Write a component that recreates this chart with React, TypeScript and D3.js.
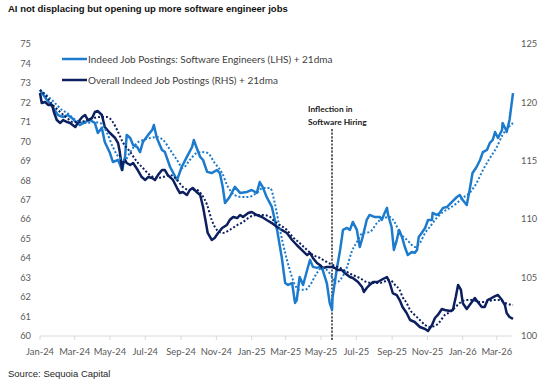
import React from "react";
import * as d3 from "d3";

// Indeed job postings, software engineers (left axis)
const softwarePostings: [string, number][] = [
  ["2024-01-01", 72.64], ["2024-01-13", 72.12], ["2024-01-23", 71.76], ["2024-02-01", 71.35],
  ["2024-02-10", 71.25], ["2024-02-18", 71.35], ["2024-02-25", 71.2], ["2024-03-05", 70.94],
  ["2024-03-10", 70.84], ["2024-03-19", 70.99], ["2024-03-27", 71.1], ["2024-04-05", 70.94],
  ["2024-04-10", 70.43], ["2024-04-17", 70.69], ["2024-04-22", 69.97], ["2024-05-01", 69.4],
  ["2024-05-06", 68.94], ["2024-05-15", 69.04], ["2024-05-22", 68.53], ["2024-05-27", 69.2],
  ["2024-05-30", 70.33], ["2024-06-05", 70.17], ["2024-06-10", 69.81], ["2024-06-17", 69.71],
  ["2024-06-22", 69.45], ["2024-06-27", 69.97], ["2024-07-06", 70.33], ["2024-07-13", 70.58],
  ["2024-07-16", 70.84], ["2024-07-21", 70.17], ["2024-07-30", 69.56], ["2024-08-04", 69.45],
  ["2024-08-13", 68.68], ["2024-08-25", 68.01], ["2024-09-02", 68.68], ["2024-09-11", 69.2],
  ["2024-09-20", 69.71], ["2024-09-23", 70.07], ["2024-09-28", 69.66], ["2024-10-04", 69.2],
  ["2024-10-09", 69.04], ["2024-10-16", 68.43], ["2024-10-24", 68.37], ["2024-11-02", 68.53],
  ["2024-11-07", 68.37], ["2024-11-12", 67.66], ["2024-11-16", 66.83], ["2024-11-24", 67.14],
  ["2024-12-03", 67.66], ["2024-12-12", 67.35], ["2024-12-24", 67.4], ["2025-01-01", 67.5],
  ["2025-01-10", 67.35], ["2025-01-15", 67.91], ["2025-01-20", 67.66], ["2025-01-27", 67.14],
  ["2025-02-05", 66.63], ["2025-02-14", 65.45], ["2025-02-22", 64.06], ["2025-02-28", 62.72],
  ["2025-03-05", 62.62], ["2025-03-12", 62.72], ["2025-03-17", 61.7], ["2025-03-20", 61.85],
  ["2025-03-25", 63.03], ["2025-03-31", 62.62], ["2025-04-07", 63.39], ["2025-04-12", 63.91],
  ["2025-04-17", 63.55], ["2025-04-24", 63.5], ["2025-04-29", 63.55], ["2025-05-04", 63.39],
  ["2025-05-11", 62.72], ["2025-05-16", 61.7], ["2025-05-20", 61.34], ["2025-05-21", 62.0],
  ["2025-05-28", 63.39], ["2025-06-03", 64.42], ["2025-06-08", 65.45], ["2025-06-15", 65.55],
  ["2025-06-20", 65.45], ["2025-06-25", 65.86], ["2025-07-02", 65.45], ["2025-07-07", 64.57],
  ["2025-07-12", 65.09], ["2025-07-19", 65.96], ["2025-07-24", 66.22], ["2025-08-02", 66.11],
  ["2025-08-11", 66.11], ["2025-08-14", 65.96], ["2025-08-19", 66.32], ["2025-08-23", 66.58],
  ["2025-08-25", 66.22], ["2025-08-31", 65.6], ["2025-09-04", 64.42], ["2025-09-09", 64.93],
  ["2025-09-13", 65.45], ["2025-09-18", 65.09], ["2025-09-23", 64.57], ["2025-09-28", 64.16],
  ["2025-10-05", 64.32], ["2025-10-10", 64.27], ["2025-10-14", 64.42], ["2025-10-17", 65.09],
  ["2025-10-22", 65.29], ["2025-10-28", 65.55], ["2025-11-02", 65.96], ["2025-11-09", 65.96],
  ["2025-11-10", 66.32], ["2025-11-17", 66.22], ["2025-11-22", 66.32], ["2025-11-28", 66.58],
  ["2025-12-05", 66.63], ["2025-12-13", 66.88], ["2025-12-22", 67.14], ["2025-12-27", 67.24],
  ["2026-01-01", 66.99], ["2026-01-08", 66.73], ["2026-01-13", 67.5], ["2026-01-18", 68.37],
  ["2026-01-25", 68.68], ["2026-01-31", 69.04], ["2026-02-05", 69.45], ["2026-02-12", 69.56],
  ["2026-02-17", 69.92], ["2026-02-22", 70.07], ["2026-02-26", 70.48], ["2026-03-03", 70.17],
  ["2026-03-10", 70.58], ["2026-03-11", 70.94], ["2026-03-17", 70.58], ["2026-03-18", 70.48],
  ["2026-03-23", 71.1], ["2026-03-29", 72.48],
];

// 21-day moving average of software engineer postings (left axis)
const softwareAvg21: [string, number][] = [
  ["2024-01-01", 72.64], ["2024-01-18", 72.23], ["2024-01-30", 71.87], ["2024-02-08", 71.61],
  ["2024-02-17", 71.46], ["2024-02-27", 71.2], ["2024-03-10", 70.99], ["2024-03-22", 70.94],
  ["2024-04-02", 70.99], ["2024-04-14", 70.94], ["2024-04-26", 70.43], ["2024-05-06", 69.71],
  ["2024-05-18", 69.14], ["2024-05-27", 69.04], ["2024-06-05", 69.45], ["2024-06-17", 69.92],
  ["2024-06-27", 70.07], ["2024-07-09", 70.17], ["2024-07-21", 70.22], ["2024-08-01", 70.07],
  ["2024-08-13", 69.56], ["2024-08-25", 69.04], ["2024-09-04", 68.63], ["2024-09-16", 69.04],
  ["2024-09-28", 69.4], ["2024-10-07", 69.45], ["2024-10-17", 69.4], ["2024-10-29", 68.89],
  ["2024-11-11", 68.37], ["2024-11-21", 67.66], ["2024-12-03", 67.24], ["2024-12-15", 67.14],
  ["2024-12-26", 67.14], ["2025-01-10", 67.35], ["2025-01-20", 67.6], ["2025-02-02", 67.6],
  ["2025-02-10", 66.83], ["2025-02-19", 65.45], ["2025-02-28", 64.27], ["2025-03-08", 63.39],
  ["2025-03-17", 62.62], ["2025-03-25", 62.37], ["2025-04-03", 62.37], ["2025-04-12", 62.62],
  ["2025-04-24", 63.24], ["2025-05-02", 63.5], ["2025-05-11", 63.39], ["2025-05-20", 63.03],
  ["2025-05-25", 62.72], ["2025-06-03", 62.88], ["2025-06-15", 63.55], ["2025-06-23", 64.32],
  ["2025-07-02", 64.83], ["2025-07-12", 65.29], ["2025-07-24", 65.34], ["2025-08-06", 65.81],
  ["2025-08-16", 66.06], ["2025-08-28", 66.11], ["2025-09-06", 65.81], ["2025-09-14", 65.29],
  ["2025-09-23", 65.04], ["2025-10-02", 64.78], ["2025-10-10", 64.57], ["2025-10-19", 64.78],
  ["2025-10-28", 65.29], ["2025-11-05", 65.6], ["2025-11-17", 66.06], ["2025-11-28", 66.37],
  ["2025-12-10", 66.58], ["2025-12-22", 66.83], ["2026-01-01", 67.09], ["2026-01-13", 67.35],
  ["2026-01-25", 67.86], ["2026-02-05", 68.53], ["2026-02-17", 69.14], ["2026-03-01", 69.71],
  ["2026-03-11", 70.33], ["2026-03-20", 70.69], ["2026-03-29", 70.94],
];

// Overall Indeed job postings (right axis)
const overallPostings: [string, number][] = [
  ["2024-01-01", 120.8], ["2024-01-04", 119.95], ["2024-01-10", 120.03], ["2024-01-15", 119.78],
  ["2024-01-22", 119.78], ["2024-01-25", 119.18], ["2024-01-30", 118.49], ["2024-02-05", 118.24],
  ["2024-02-10", 118.49], ["2024-02-17", 118.32], ["2024-02-22", 118.24], ["2024-03-02", 117.89],
  ["2024-03-07", 118.32], ["2024-03-14", 118.75], ["2024-03-19", 118.92], ["2024-03-24", 118.49],
  ["2024-03-31", 118.66], ["2024-04-05", 119.18], ["2024-04-10", 119.26], ["2024-04-17", 118.92],
  ["2024-04-22", 117.89], ["2024-05-01", 117.38], ["2024-05-10", 116.95], ["2024-05-15", 116.52],
  ["2024-05-18", 115.75], ["2024-05-22", 114.21], ["2024-05-23", 114.81], ["2024-05-27", 115.07],
  ["2024-05-30", 114.81], ["2024-06-05", 114.64], ["2024-06-10", 114.81], ["2024-06-18", 114.21],
  ["2024-06-25", 113.61], ["2024-07-01", 113.36], ["2024-07-06", 113.61], ["2024-07-13", 113.53],
  ["2024-07-18", 113.36], ["2024-07-23", 113.78], ["2024-07-30", 114.21], ["2024-08-04", 114.21],
  ["2024-08-09", 113.78], ["2024-08-18", 113.36], ["2024-08-25", 112.67], ["2024-08-30", 112.24],
  ["2024-09-04", 112.33], ["2024-09-11", 112.07], ["2024-09-16", 112.5], ["2024-09-21", 112.67],
  ["2024-09-28", 112.33], ["2024-10-04", 112.07], ["2024-10-09", 111.04], ["2024-10-14", 109.67],
  ["2024-10-17", 108.82], ["2024-10-24", 108.22], ["2024-10-29", 108.39], ["2024-11-04", 108.82],
  ["2024-11-11", 109.25], ["2024-11-19", 109.5], ["2024-11-24", 109.93], ["2024-11-30", 110.19],
  ["2024-12-07", 110.1], ["2024-12-12", 110.36], ["2024-12-17", 110.19], ["2024-12-26", 110.53],
  ["2025-01-01", 110.62], ["2025-01-10", 110.36], ["2025-01-19", 110.19], ["2025-01-27", 109.93],
  ["2025-02-05", 109.67], ["2025-02-14", 109.33], ["2025-02-22", 109.08], ["2025-03-03", 108.82],
  ["2025-03-12", 108.22], ["2025-03-20", 107.79], ["2025-03-29", 107.36], ["2025-04-07", 106.93],
  ["2025-04-12", 107.11], ["2025-04-17", 106.68], ["2025-04-24", 106.25], ["2025-04-29", 106.08],
  ["2025-05-04", 105.82], ["2025-05-11", 105.91], ["2025-05-20", 105.91], ["2025-05-25", 105.82],
  ["2025-05-30", 105.65], ["2025-06-06", 105.65], ["2025-06-11", 105.39], ["2025-06-20", 105.05],
  ["2025-06-25", 104.97], ["2025-07-04", 104.62], ["2025-07-11", 104.2], ["2025-07-14", 103.77],
  ["2025-07-19", 104.11], ["2025-07-24", 104.37], ["2025-07-30", 104.62], ["2025-08-07", 104.62],
  ["2025-08-16", 104.88], ["2025-08-23", 105.05], ["2025-08-28", 104.54], ["2025-09-02", 103.68],
  ["2025-09-09", 103.51], ["2025-09-14", 103.08], ["2025-09-19", 102.48], ["2025-09-26", 101.97],
  ["2025-10-02", 101.37], ["2025-10-10", 101.2], ["2025-10-19", 100.77], ["2025-10-28", 100.6],
  ["2025-11-02", 100.43], ["2025-11-09", 100.94], ["2025-11-14", 101.54], ["2025-11-19", 101.8],
  ["2025-11-26", 102.31], ["2025-12-01", 102.23], ["2025-12-10", 102.14], ["2025-12-15", 102.23],
  ["2025-12-20", 103.34], ["2025-12-24", 104.37], ["2025-12-29", 103.94], ["2026-01-01", 102.83],
  ["2026-01-08", 102.31], ["2026-01-13", 102.65], ["2026-01-22", 103.25], ["2026-01-27", 102.91],
  ["2026-02-03", 102.48], ["2026-02-08", 102.48], ["2026-02-13", 103.08], ["2026-02-20", 103.25],
  ["2026-02-26", 103.42], ["2026-03-03", 103.51], ["2026-03-10", 103.08], ["2026-03-15", 102.65],
  ["2026-03-18", 101.97], ["2026-03-23", 101.63], ["2026-03-29", 101.46],
];

// 21-day moving average of overall postings (right axis)
const overallAvg21: [string, number][] = [
  ["2024-01-01", 121.06], ["2024-01-13", 120.46], ["2024-01-23", 119.78], ["2024-02-05", 119.18],
  ["2024-02-17", 118.66], ["2024-02-27", 118.32], ["2024-03-10", 118.32], ["2024-03-22", 118.49],
  ["2024-04-02", 118.66], ["2024-04-14", 118.75], ["2024-04-26", 118.75], ["2024-05-06", 118.32],
  ["2024-05-15", 117.47], ["2024-05-23", 116.61], ["2024-06-05", 115.75], ["2024-06-17", 114.9],
  ["2024-06-27", 114.38], ["2024-07-09", 113.78], ["2024-07-21", 113.53], ["2024-08-01", 113.61],
  ["2024-08-13", 113.78], ["2024-08-25", 113.36], ["2024-09-04", 112.76], ["2024-09-16", 112.5],
  ["2024-09-28", 112.5], ["2024-10-07", 112.07], ["2024-10-16", 111.22], ["2024-10-24", 109.93],
  ["2024-11-02", 109.08], ["2024-11-12", 108.82], ["2024-11-24", 109.08], ["2024-12-07", 109.5],
  ["2024-12-17", 109.76], ["2024-12-29", 110.19], ["2025-01-10", 110.36], ["2025-01-20", 110.36],
  ["2025-02-02", 110.19], ["2025-02-07", 109.93], ["2025-02-19", 109.5], ["2025-03-03", 109.08],
  ["2025-03-13", 108.48], ["2025-03-25", 107.96], ["2025-04-07", 107.36], ["2025-04-17", 106.93],
  ["2025-04-29", 106.68], ["2025-05-11", 106.34], ["2025-05-21", 106.08], ["2025-06-03", 105.82],
  ["2025-06-15", 105.48], ["2025-06-25", 105.22], ["2025-07-07", 104.97], ["2025-07-19", 104.62],
  ["2025-07-30", 104.54], ["2025-08-11", 104.54], ["2025-08-16", 104.62], ["2025-08-28", 104.79],
  ["2025-09-06", 104.37], ["2025-09-14", 103.94], ["2025-09-19", 103.34], ["2025-09-26", 102.83],
  ["2025-10-02", 102.23], ["2025-10-10", 101.8], ["2025-10-19", 101.37], ["2025-10-28", 100.94],
  ["2025-11-05", 100.77], ["2025-11-14", 100.86], ["2025-11-22", 101.2], ["2025-12-01", 101.8],
  ["2025-12-10", 102.05], ["2025-12-18", 102.4], ["2025-12-27", 102.83], ["2026-01-08", 103.08],
  ["2026-01-18", 103.08], ["2026-01-31", 102.91], ["2026-02-12", 102.91], ["2026-02-22", 103.08],
  ["2026-03-06", 103.08], ["2026-03-15", 102.83], ["2026-03-29", 102.65],
];

const leftTicks = [60, 61, 62, 63, 64, 65, 66, 67, 68, 69, 70, 71, 72, 73, 74, 75];
const rightTicks = [100, 105, 110, 115, 120, 125];
const monthTicks = [
  "2024-01-01", "2024-03-01", "2024-05-01", "2024-07-01", "2024-09-01", "2024-11-01",
  "2025-01-01", "2025-03-01", "2025-05-01", "2025-07-01", "2025-09-01", "2025-11-01",
  "2026-01-01", "2026-03-01",
];
const inflectionDate = "2025-05-20";
const legendLabels = [
  "Indeed Job Postings: Software Engineers (LHS) + 21dma",
  "Overall Indeed Job Postings (RHS) + 21dma",
];

const SOFTWARE = "#1C7BCC";
const OVERALL = "#0C1F5E";
const LABEL_FONT = "Lato, 'Open Sans', sans-serif";

const parse = d3.timeParse("%Y-%m-%d");
const fmt = d3.timeFormat("%b-%y");

export default function App() {
  const W = 560;
  const H = 391;
  const x0 = 40;
  const x1 = 513;
  const yTop = 44;
  const yBot = 336;

  const x = d3
    .scaleTime()
    .domain([parse("2024-01-01")!, parse("2026-03-29")!])
    .range([x0, x1]);
  const yL = d3.scaleLinear().domain([60, 75]).range([yBot, yTop]);
  const yR = d3.scaleLinear().domain([100, 125]).range([yBot, yTop]);

  const lineL = d3
    .line<[string, number]>()
    .x((d) => x(parse(d[0])!))
    .y((d) => yL(d[1]));
  const lineR = d3
    .line<[string, number]>()
    .x((d) => x(parse(d[0])!))
    .y((d) => yR(d[1]));
  const smoothL = d3
    .line<[string, number]>()
    .curve(d3.curveMonotoneX)
    .x((d) => x(parse(d[0])!))
    .y((d) => yL(d[1]));
  const smoothR = d3
    .line<[string, number]>()
    .curve(d3.curveMonotoneX)
    .x((d) => x(parse(d[0])!))
    .y((d) => yR(d[1]));

  const xInf = x(parse(inflectionDate)!);

  return (
    <svg
      width={W}
      height={H}
      style={{ position: "absolute", left: 0, top: 0, background: "#fff" }}
    >
      <text
        x={8}
        y={11.5}
        fontFamily="'Liberation Sans', Arial, sans-serif"
        fontWeight="bold"
        fontSize={9.5}
        fill="#111"
      >
        AI not displacing but opening up more software engineer jobs
      </text>

      {/* left axis labels */}
      {leftTicks.map((t) => (
        <text
          key={"l" + t}
          x={31}
          y={yL(t)}
          dy="0.35em"
          textAnchor="end"
          fontFamily={LABEL_FONT}
          fontSize={9.3}
          fill="#595959"
        >
          {t}
        </text>
      ))}

      {/* right axis labels */}
      {rightTicks.map((t) => (
        <text
          key={"r" + t}
          x={521}
          y={yR(t)}
          dy="0.35em"
          textAnchor="start"
          fontFamily={LABEL_FONT}
          fontSize={9.3}
          fill="#595959"
        >
          {t}
        </text>
      ))}

      {/* x axis */}
      <line x1={x0} x2={512} y1={yBot} y2={yBot} stroke="#d9d9d9" strokeWidth={1} />
      {monthTicks.map((m) => {
        const px = x(parse(m)!);
        return (
          <g key={m}>
            <line x1={px} x2={px} y1={yBot} y2={yBot + 4} stroke="#d9d9d9" strokeWidth={1} />
            <text
              x={px}
              y={355}
              textAnchor="middle"
              fontFamily={LABEL_FONT}
              fontSize={9.4}
              fill="#595959"
            >
              {fmt(parse(m)!)}
            </text>
          </g>
        );
      })}

      {/* inflection marker */}
      <line
        x1={xInf}
        x2={xInf}
        y1={129}
        y2={yBot + 4}
        stroke="#111"
        strokeWidth={1.3}
        strokeDasharray="2.2 1.4"
      />
      <text fontFamily={LABEL_FONT} fontWeight="bold" fontSize={8.4} fill="#1a1a1a">
        <tspan x={308} y={112}>Inflection in</tspan>
        <tspan x={308} y={124.5}>Software Hiring</tspan>
      </text>

      {/* series */}
      <path d={lineL(softwarePostings) ?? ""} fill="none" stroke={SOFTWARE} strokeWidth={2.5} strokeLinejoin="round" />
      <path d={lineR(overallPostings) ?? ""} fill="none" stroke={OVERALL} strokeWidth={2.5} strokeLinejoin="round" />
      <path d={smoothL(softwareAvg21) ?? ""} fill="none" stroke={SOFTWARE} strokeWidth={2} strokeDasharray="2 2" />
      <path d={smoothR(overallAvg21) ?? ""} fill="none" stroke={OVERALL} strokeWidth={2} strokeDasharray="2 2" />

      {/* legend */}
      {legendLabels.map((label, i) => {
        const ly = 59 + i * 21;
        return (
          <g key={label}>
            <line x1={62} x2={87} y1={ly} y2={ly} stroke={i === 0 ? SOFTWARE : OVERALL} strokeWidth={2.5} />
            <text
              x={88}
              y={ly}
              dy="0.35em"
              fontFamily={LABEL_FONT}
              fontSize={10}
              fill="#404040"
            >
              {label}
            </text>
          </g>
        );
      })}

      <text
        x={8}
        y={377}
        fontFamily="'Liberation Sans', Arial, sans-serif"
        fontSize={9.5}
        fill="#262626"
      >
        Source: Sequoia Capital
      </text>
    </svg>
  );
}
